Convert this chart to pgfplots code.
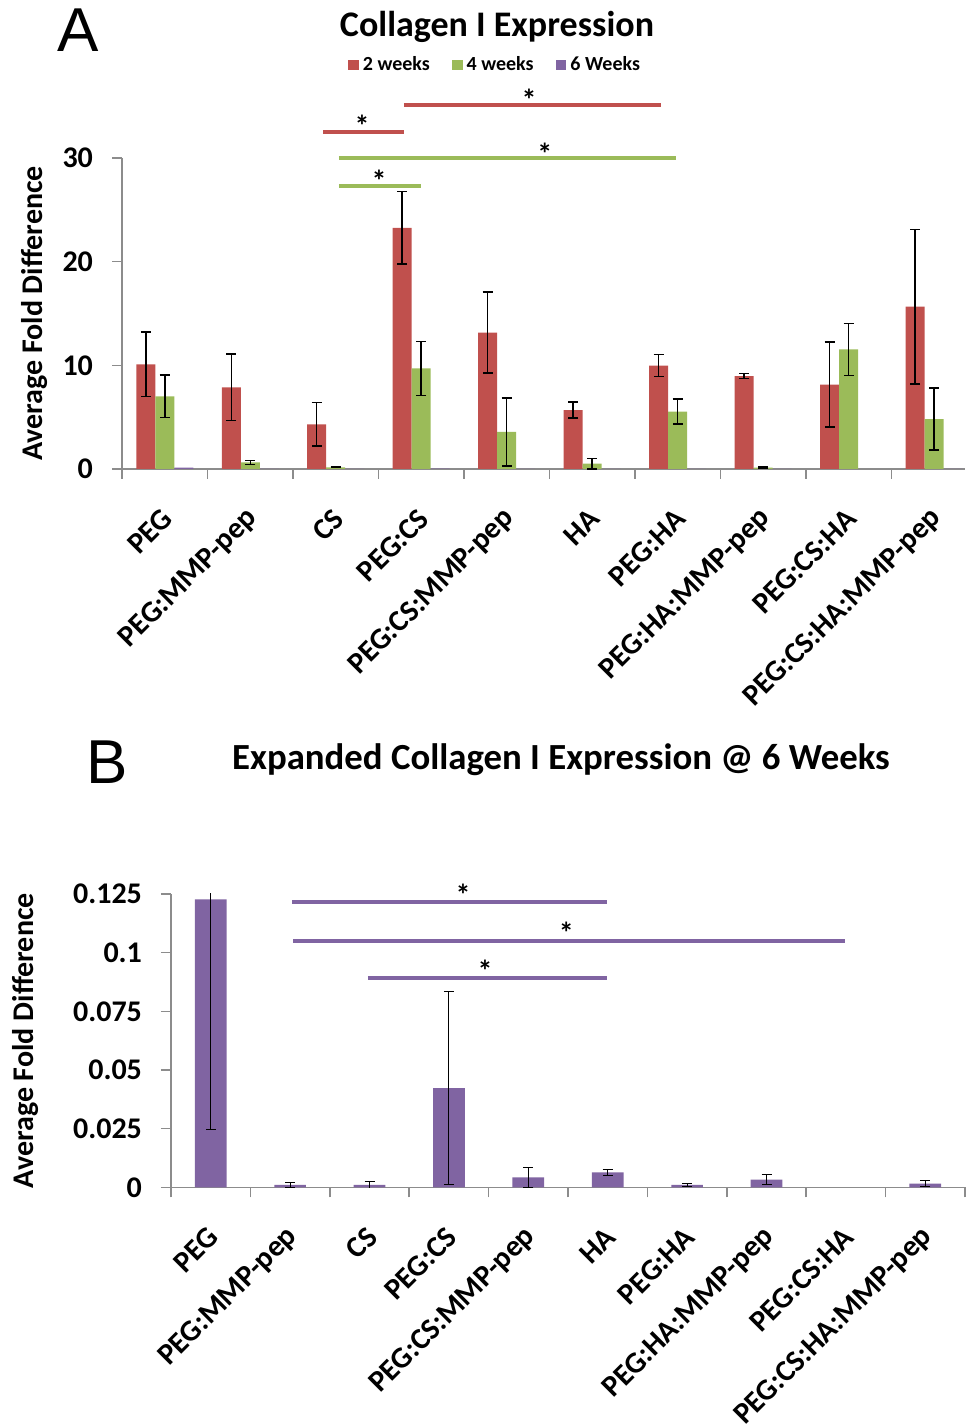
\documentclass[border=0pt]{standalone}
\usepackage{pgfplots}
\pgfplotsset{compat=1.18}
\usepackage{fontspec}
\setmainfont{Carlito}
\newfontfamily\letterfont{Liberation Sans}
\definecolor{cred}{RGB}{192,80,77}
\definecolor{cgreen}{RGB}{155,187,89}
\definecolor{cpurple}{RGB}{128,100,162}
\definecolor{axgray}{RGB}{140,140,140}
\pgfplotsset{
  excelaxis/.style={
    scale only axis,
    axis x line=bottom, axis y line=left,
    axis line style={-, draw=axgray, line width=0.8pt},
    tick align=outside,
    major tick length=5pt, minor tick length=5pt,
    every tick/.style={draw=axgray, line width=0.8pt},
    major x tick style={draw=none},
    xtick={0,...,9},
    xticklabels={PEG,PEG:MMP-pep,CS,PEG:CS,PEG:CS:MMP-pep,HA,PEG:HA,PEG:HA:MMP-pep,PEG:CS:HA,PEG:CS:HA:MMP-pep},
    xticklabel style={rotate=45, anchor=east, inner sep=0pt, xshift=-11.3pt, yshift=-13.4pt, font=\bfseries\fontsize{15}{15}\selectfont},
    yticklabel style={font=\bfseries\fontsize{15}{15}\selectfont, xshift=-6pt},
    ylabel={Average Fold Difference},
    ylabel style={font=\bfseries\fontsize{15}{15}\selectfont, anchor=center, rotate=0},
  },
  ebar/.style={error bars/y dir=both, error bars/y explicit,
    error bars/error bar style={black, line width=#1},
    error bars/error mark options={rotate=90, black, mark size=2.5pt, line width=#1}},
  ebar/.default=0.75pt,
}
\begin{document}
\begin{tikzpicture}[x=1pt,y=1pt]
\useasboundingbox (0,0) rectangle (484,712);
% ---------------- Panel A ----------------
\begin{axis}[excelaxis,
  at={(61pt,477.5pt)}, anchor=south west,
  width=421.5pt, height=155.5pt,
  xmin=-0.5, xmax=9.36, ymin=0, ymax=30,
  ybar=0pt, bar width=9.5pt,
  minor xtick={-0.5,0.5,...,8.5},
  ytick={0,10,20,30}, yticklabels={0,10,20,30},
  ylabel style={at={(axis description cs:-0.1035,0.5)}},
  clip=false,
  legend style={at={(0.4437,1.299)}, anchor=center, draw=none, fill=none,
    legend columns=3, font=\bfseries\fontsize{10}{12}\selectfont,
    /tikz/every even column/.append style={column sep=9pt}},
  legend image code/.code={\fill[#1] (0pt,-2.7pt) rectangle (5.4pt,2.7pt);},
]
\addplot[fill=cred, draw=none, ebar] coordinates {
 (0,10.1) +- (0,3.1)
 (1,7.88) +- (0,3.2)
 (2,4.3) +- (0,2.1)
 (3,23.25) +- (0,3.5)
 (4,13.15) +- (0,3.9)
 (5,5.69) +- (0,0.75)
 (6,9.97) +- (0,1.05)
 (7,8.97) +- (0,0.26)
 (8,8.13) +- (0,4.1)
 (9,15.66) +- (0,7.45)
};
\addlegendentry{2 weeks}
\addplot[fill=cgreen, draw=none, ebar] coordinates {
 (0,7.0) +- (0,2.05)
 (1,0.64) +- (0,0.2)
 (2,0.16) +- (0,0.03)
 (3,9.7) +- (0,2.6)
 (4,3.57) +- (0,3.3)
 (5,0.51) +- (0,0.5)
 (6,5.53) +- (0,1.2)
 (7,0.13) +- (0,0.05)
 (8,11.54) +- (0,2.5)
 (9,4.82) +- (0,3.0)
};
\addlegendentry{4 weeks}
\addplot[fill=cpurple, draw=none] coordinates {
 (0,0.1227)
 (1,0.001)
 (2,0.001)
 (3,0.0423)
 (4,0.00426)
 (5,0.0064)
 (6,0.001)
 (7,0.0033)
 (9,0.0016)
};
\addlegendentry{6 Weeks}
% significance lines
\addplot[sharp plot, cred, line width=2pt, forget plot] coordinates {(2.798,35.1) (5.804,35.1)};
\addplot[sharp plot, cred, line width=2pt, forget plot] coordinates {(1.851,32.5) (2.798,32.5)};
\addplot[sharp plot, cgreen, line width=2pt, forget plot] coordinates {(2.038,29.96) (5.98,29.96)};
\addplot[sharp plot, cgreen, line width=2pt, forget plot] coordinates {(2.038,27.3) (2.997,27.3)};
\node[anchor=base, inner sep=0pt, font=\bfseries\fontsize{15}{15}\selectfont] at (axis cs:4.26,34.62) {*};
\node[anchor=base, inner sep=0pt, font=\bfseries\fontsize{15}{15}\selectfont] at (axis cs:2.307,32.1) {*};
\node[anchor=base, inner sep=0pt, font=\bfseries\fontsize{15}{15}\selectfont] at (axis cs:4.447,29.41) {*};
\node[anchor=base, inner sep=0pt, font=\bfseries\fontsize{15}{15}\selectfont] at (axis cs:2.506,26.81) {*};
\end{axis}
% ---------------- Panel B ----------------
\begin{axis}[excelaxis,
  at={(85.5pt,118.35pt)}, anchor=south west,
  width=397pt, height=146.65pt,
  xmin=-0.5, xmax=9.5, ymin=0, ymax=0.125,
  minor xtick={-0.5,0.5,...,9.5},
  ytick={0,0.025,0.05,0.075,0.1,0.125}, yticklabels={0,0.025,0.05,0.075,0.1,0.125},
  ylabel style={at={(axis description cs:-0.183,0.5)}},
  clip mode=individual,
]
\addplot[ybar, bar width=15.85pt, bar shift=0pt, fill=cpurple, draw=none, ebar=0.55pt] coordinates {
 (0,0.1227) +- (0,0.098)
 (1,0.001) +- (0,0.001)
 (2,0.001) +- (0,0.0016)
 (3,0.0423) +- (0,0.041)
 (4,0.00426) +- (0,0.0043)
 (5,0.0064) +- (0,0.0012)
 (6,0.001) +- (0,0.0005)
 (7,0.0033) +- (0,0.002)
 (9,0.0016) +- (0,0.0012)
};
\addplot[sharp plot, cpurple, line width=2pt] coordinates {(1.024,0.1217) (4.99,0.1217)};
\addplot[sharp plot, cpurple, line width=2pt] coordinates {(1.037,0.1051) (7.99,0.1051)};
\addplot[sharp plot, cpurple, line width=2pt] coordinates {(1.98,0.0893) (4.99,0.0893)};
\node[anchor=base, inner sep=0pt, font=\bfseries\fontsize{15}{15}\selectfont] at (axis cs:3.18,0.1199) {*};
\node[anchor=base, inner sep=0pt, font=\bfseries\fontsize{15}{15}\selectfont] at (axis cs:4.48,0.1037) {*};
\node[anchor=base, inner sep=0pt, font=\bfseries\fontsize{15}{15}\selectfont] at (axis cs:3.457,0.0877) {*};
\end{axis}
% ---------------- titles ----------------
\node[font=\bfseries\fontsize{18}{18}\selectfont, anchor=base] at (248.5,693.5) {Collagen I Expression};
\node[font=\bfseries\fontsize{18.4}{18.4}\selectfont, anchor=base] at (280.5,327.35) {Expanded Collagen I Expression @ 6 Weeks};
\node[font=\letterfont\fontsize{31}{31}\selectfont, inner sep=0pt] at (39,696.75) {A};
\node[font=\letterfont\fontsize{31}{31}\selectfont, inner sep=0pt] at (53.5,331) {B};
\end{tikzpicture}
\end{document}
